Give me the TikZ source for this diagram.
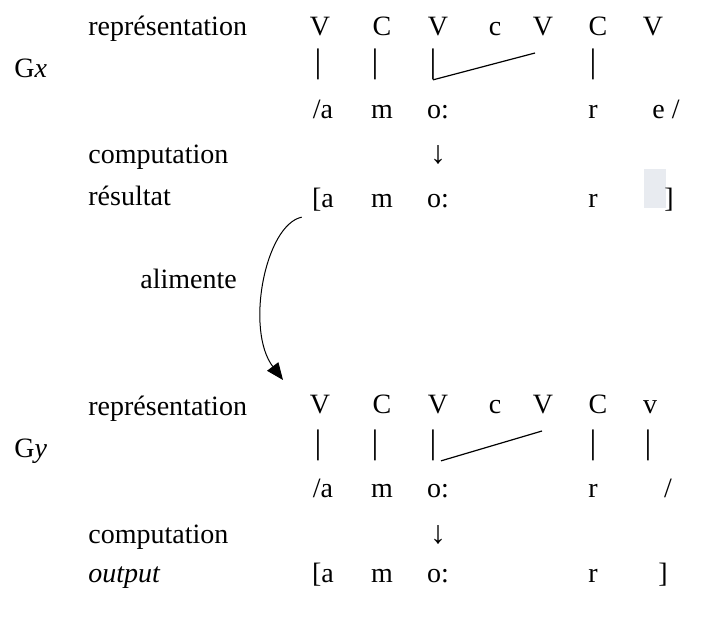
\documentclass[tikz,border=0pt]{standalone}
\usepackage{fontspec}
\setmainfont{Liberation Serif}
\usetikzlibrary{arrows.meta}
\definecolor{gapgray}{HTML}{E8EBF0}

\begin{document}
\begin{tikzpicture}[
    x=0.5pt, y=-0.5pt,
    every node/.style={font=\fontsize{14}{16}\selectfont},
    lab/.style={anchor=base west, inner sep=0pt},
    seg/.style={anchor=base, inner sep=0pt},
    bar/.style={inner sep=0pt, font=\fontsize{17}{18}\selectfont},
    carr/.style={inner sep=0pt, font=\fontsize{16}{18}\selectfont},
    assoc/.style={line width=0.6pt},
    feed/.style={-{Triangle[length=8.5pt, width=7pt]}, line width=0.5pt},
    gapbox/.style={fill=gapgray, inner sep=0pt, minimum width=11pt, minimum height=19.5pt, anchor=north west}
]
    \useasboundingbox (0,0) rectangle (703,632);

    % Grammaire x
    \node[lab] (gx) at (14,77) {G\textit{x}};
    \node[lab] (xrep) at (88,35) {représentation};
    \node[lab] (xcomp) at (88,163) {computation};
    \node[lab] (xres) at (88,205) {résultat};

    \foreach \s/\x [count=\i] in {V/320, C/382, V/438, c/495, V/543, C/598, V/653}
        \node[seg] (xsk\i) at (\x,35) {\s};
    \foreach \x [count=\i] in {318, 375, 433, 593}
        \node[bar] (xb\i) at (\x,64) {|};
    \coordinate (xlink) at (535,53);
    \draw[assoc] (xb3.south) -- (xlink);

    \node[seg] (xm1) at (323,118) {/a};
    \node[seg] (xm2) at (382,118) {m};
    \node[seg] (xm3) at (438,118) {o:};
    \node[seg] (xm4) at (593,118) {r};
    \node[seg] (xm5) at (666,118) {e /};
    \node[carr] (xcarr) at (438,155) {↓};

    \node[gapbox] (xgap) at (644,169) {};
    \node[seg] (xr1) at (323,207) {[a};
    \node[seg] (xr2) at (382,207) {m};
    \node[seg] (xr3) at (438,207) {o:};
    \node[seg] (xr4) at (593,207) {r};
    \node[seg] (xr5) at (669,207) {]};

    % alimente
    \node[lab] (feedlbl) at (140,288) {alimente};
    \coordinate (feedend) at (283,380);
    \draw[feed] ([xshift=-5pt, yshift=-3pt]xr1.south west) .. controls (265,225) and (245,330) .. (feedend);

    % Grammaire y
    \node[lab] (gy) at (14,457) {G\textit{y}};
    \node[lab] (yrep) at (88,415) {représentation};
    \node[lab] (ycomp) at (88,543) {computation};
    \node[lab] (yout) at (88,582) {\textit{output}};

    \foreach \s/\x [count=\i] in {V/320, C/382, V/438, c/495, V/543, C/598, v/650}
        \node[seg] (ysk\i) at (\x,413) {\s};
    \foreach \x [count=\i] in {318, 375, 433, 593, 648}
        \node[bar] (yb\i) at (\x,445) {|};
    \coordinate (ylink) at (542,431);
    \draw[assoc] ([xshift=4pt]yb3.south) -- (ylink);

    \node[seg] (ym1) at (323,497) {/a};
    \node[seg] (ym2) at (382,497) {m};
    \node[seg] (ym3) at (438,497) {o:};
    \node[seg] (ym4) at (593,497) {r};
    \node[seg] (ym5) at (668,497) {/};
    \node[carr] (ycarr) at (438,535) {↓};

    \node[seg] (yr1) at (323,582) {[a};
    \node[seg] (yr2) at (382,582) {m};
    \node[seg] (yr3) at (438,582) {o:};
    \node[seg] (yr4) at (593,582) {r};
    \node[seg] (yr5) at (663,582) {]};
\end{tikzpicture}
\end{document}
